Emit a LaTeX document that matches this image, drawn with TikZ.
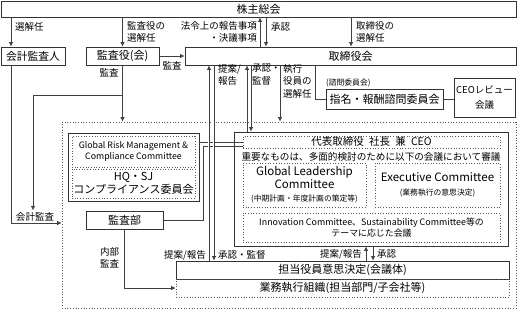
\documentclass[tikz,border=0pt]{standalone}
\usepackage{fontspec}
\setmainfont{Noto Sans CJK JP}
\usetikzlibrary{arrows.meta}
\tikzset{
  solidbox/.style={draw=black!80,line width=.8pt,inner sep=0pt,align=center,font=\fontsize{11}{13}\selectfont},
  dotbox/.style={draw=black!65,dotted,line width=.7pt,inner sep=0pt,align=center},
  lbl/.style={inner sep=0pt,align=left,font=\fontsize{9.5}{12.5}\selectfont},
  tinylbl/.style={inner sep=0pt,font=\fontsize{7.8}{9}\selectfont},
  link/.style={draw=black!75,line width=.8pt},
  arr/.style={link,-{Latex[length=4.5pt,width=4.5pt]}},
  crossarr/.style={arr,preaction={draw=white,line width=2.4pt,-,shorten <=2pt,shorten >=2pt}}
}
\begin{document}
\begin{tikzpicture}[x=1pt,y=-1pt]
  \useasboundingbox (0,0) rectangle (518,309);
  \node[dotbox,minimum width=454pt,minimum height=186pt] (area) at (289,215) {};

  \node[solidbox,minimum width=515pt,minimum height=16pt] (kabu) at (258.5,9) {株主総会};
  \node[solidbox,minimum width=64pt,minimum height=18pt,font=\fontsize{10.8}{13}\selectfont] (kaikei) at (33,56) {会計監査人};
  \node[solidbox,minimum width=73pt,minimum height=18pt] (kansa) at (122.5,56) {監査役(会)};
  \node[solidbox,minimum width=331pt,minimum height=18pt] (tori) at (350.5,56) {取締役会};
  \node[solidbox,minimum width=117pt,minimum height=20pt] (shimei) at (384.5,99) {指名・報酬諮問委員会};
  \node[solidbox,minimum width=61pt,minimum height=39pt,font=\fontsize{9.5}{15}\selectfont] (ceorev) at (484.5,97.5) {CEOレビュー\\会議};

  \node[solidbox,minimum width=131pt,minimum height=68pt] (grc) at (133.5,167) {};
  \node[dotbox,minimum width=123pt,minimum height=31pt,font=\fontsize{8.8}{11}\selectfont] (grm) at (133.5,151.5) {Global Risk Management \&\\Compliance Committee};
  \node[dotbox,minimum width=123pt,minimum height=29pt,font=\fontsize{11}{13}\selectfont] (hqsj) at (133.5,183.5) {HQ・SJ\\コンプライアンス委員会};
  \node[solidbox,minimum width=77pt,minimum height=18pt] (kansabu) at (124.5,220) {監査部};

  \node[solidbox,minimum width=274pt,minimum height=114pt] (daihyo) at (371,189) {};
  \node[dotbox,minimum width=257pt,minimum height=12pt,font=\fontsize{10.5}{12}\selectfont] (ceo) at (371.5,142) {代表取締役\hspace{.5em}社長\hspace{.5em}兼\hspace{.5em}CEO};
  \node[inner sep=0pt,font=\fontsize{9.6}{11}\selectfont] (juyo) at (371,157) {重要なものは、多面的検討のために以下の会議において審議};
  \node[dotbox,minimum width=123pt,minimum height=44pt,font=\fontsize{11.5}{13}\selectfont] (glc) at (304.5,185) {Global Leadership\\Committee\\{\fontsize{7.8}{9}\selectfont (中期計画・年度計画の策定等)}};
  \node[dotbox,minimum width=125pt,minimum height=44pt,font=\fontsize{11.5}{14}\selectfont] (exec) at (437.5,185) {Executive Committee\\{\fontsize{7.8}{9}\selectfont (業務執行の意思決定)}};
  \node[dotbox,minimum width=257pt,minimum height=29pt,font=\fontsize{8.9}{11.5}\selectfont] (innov) at (371.5,227.5) {Innovation Committee、Sustainability Committee等の\\テーマに応じた会議};

  \node[solidbox,minimum width=333pt,minimum height=18pt] (tanto) at (342.5,270) {担当役員意思決定(会議体)};
  \node[dotbox,minimum width=333pt,minimum height=18pt,font=\fontsize{11}{13}\selectfont] (gyomu) at (342.5,288) {業務執行組織(担当部門/子会社等)};

  % labels
  \node[lbl,anchor=west] (lsen) at (15,27) {選解任};
  \node[lbl,anchor=north west] (lkansen) at (127,21) {監査役の\\選解任};
  \node[lbl,anchor=north east,align=right] (lhorei) at (257,21) {法令上の報告事項\\・決議事項};
  \node[lbl,anchor=west] (lshonin) at (271,27) {承認};
  \node[lbl,anchor=north west] (ltorisen) at (356,21) {取締役の\\選解任};
  \node[lbl] (lkansa1) at (109,73) {監査};
  \node[lbl] (lkansa2) at (172,66) {監査};
  \node[lbl,anchor=north west] (lteian1) at (218,64) {提案/\\報告};
  \node[lbl,anchor=north west] (lshonin1) at (252,64) {承認・\\監督};
  \node[lbl,anchor=north west] (lshikko) at (283,64) {執行\\役員の\\選解任};
  \node[tinylbl,anchor=west] (lshimon) at (326,83) {(諮問委員会)};
  \node[lbl] (lkaikei) at (35,217) {会計監査};
  \node[lbl,anchor=north west] (lnaibu) at (100,247) {内部\\監査};
  \node[lbl,anchor=east] (lteian2) at (206,255) {提案/報告};
  \node[lbl,anchor=west] (lshonin2) at (218,255) {承認・監督};
  \node[lbl,anchor=east] (lteian3) at (362,254) {提案/報告};
  \node[lbl,anchor=west] (lshonin3) at (377,254) {承認};

  % line positions
  \coordinate (xsen) at (11,0);
  \coordinate (xhup) at (260,0);
  \coordinate (xhdn) at (266,0);
  \coordinate (xtsen) at (351,0);
  \coordinate (xpa) at (209,0);
  \coordinate (xpb) at (214,0);
  \coordinate (xqa) at (247,0);
  \coordinate (xqb) at (251,0);
  \coordinate (xexe) at (280,0);
  \coordinate (xshi) at (315,0);
  \coordinate (xkk) at (33,0);
  \coordinate (xab) at (203,0);
  \coordinate (xua) at (366,0);
  \coordinate (xub) at (373,0);
  \coordinate (ybr) at (0,95);
  \coordinate (ygr) at (0,142);
  \coordinate (yab) at (0,146);
  \coordinate (ykai) at (0,223);

  % connectors
  \draw[arr] (kabu.south -| xsen) -- (kaikei.north -| xsen);
  \draw[arr] (kabu.south -| kansa.north) -- (kansa.north);
  \draw[arr] (tori.north -| xhup) -- (kabu.south -| xhup);
  \draw[arr] (kabu.south -| xhdn) -- (tori.north -| xhdn);
  \draw[arr] (kabu.south -| xtsen) -- (tori.north -| xtsen);
  \draw[arr] (kansa.east) -- (tori.west);
  \draw[arr] (kaikei.south -| xsen) |- (area.west |- ykai);
  \draw[arr] (kansa.south) -- (area.north -| kansa.south);
  \draw[arr] (kansa.south |- ybr) -| ([yshift=2pt]lkaikei.north -| xkk);
  \draw[link] (tori.south -| xshi) |- (shimei.west);
  \draw[link] (shimei.east) -- (ceorev.west |- shimei.east);
  \draw[arr] (tori.south -| xexe) -- (area.north -| xexe);
  \draw[arr] (daihyo.north -| xqa) -- (tori.south -| xqa);
  \draw[arr] (tori.south -| xqb) -- (daihyo.north -| xqb);
  \draw[link] (grc.east |- ygr) -- (ceo.west |- ygr);
  \draw[link] (kansabu.east) -| (xab |- yab) -- (ceo.west |- yab);
  \draw[arr] (kansabu.south) |- (gyomu.west);
  \draw[crossarr] (tanto.north -| xpa) -- (tori.south -| xpa);
  \draw[crossarr] (tori.south -| xpb) -- (tanto.north -| xpb);
  \draw[arr] (tanto.north -| xua) -- (daihyo.south -| xua);
  \draw[arr] (daihyo.south -| xub) -- (tanto.north -| xub);
\end{tikzpicture}
\end{document}
